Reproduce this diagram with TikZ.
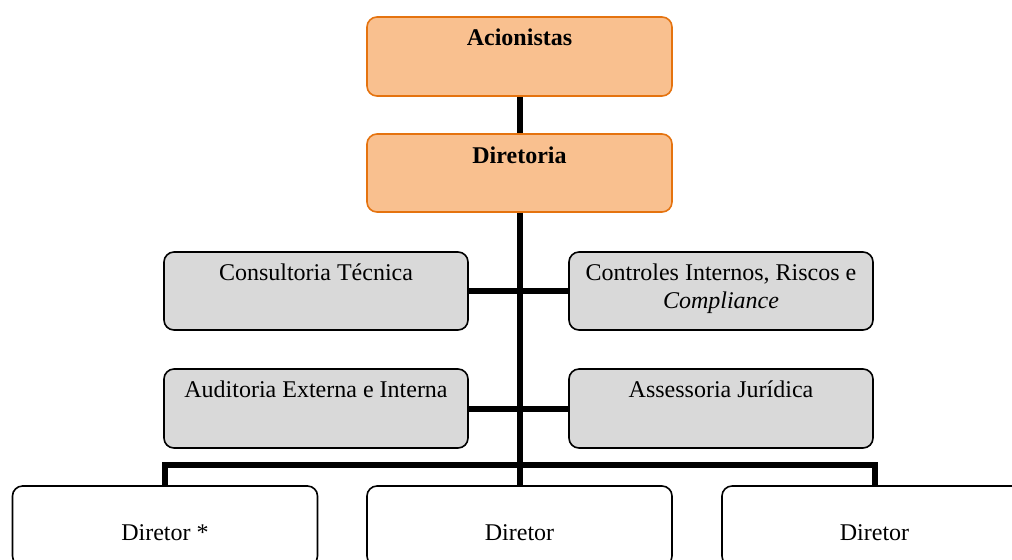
\documentclass[tikz,border=0pt]{standalone}
\usepackage{fontspec}
\setmainfont{Liberation Serif}
\definecolor{orgfill}{HTML}{F9C08F}
\definecolor{orgline}{HTML}{E5730F}
\definecolor{grayfill}{HTML}{D9D9D9}
\begin{document}
\begin{tikzpicture}[x=0.5pt,y=-0.5pt,
  box/.style={draw, rounded corners=5pt, line width=0.8pt, inner sep=0pt},
  topbox/.style={box, draw=orgline, fill=orgfill, minimum width=152.5pt},
  midbox/.style={box, fill=grayfill, minimum width=152pt},
  lowbox/.style={box, fill=white, minimum width=152.5pt, minimum height=40pt},
  lbl/.style={anchor=base, font=\fontsize{12}{14}\selectfont, inner sep=0pt, align=center},
  conn/.style={line width=3pt, line join=miter}]
\useasboundingbox (0,0) rectangle (1012,559);
\clip (0,0) rectangle (1012,559);
% boxes
\node[topbox, minimum height=39.5pt] (acc) at (519.5,56.5) {};
\node[topbox, minimum height=39pt] (dir) at (519.5,173) {};
\node[midbox, minimum height=39pt] (cons) at (316,291) {};
\node[midbox, minimum height=39pt] (ctrl) at (721,291) {};
\node[midbox, minimum height=39.5pt] (aud) at (316,408.5) {};
\node[midbox, minimum height=39.5pt] (ass) at (721,408.5) {};
\node[lowbox] (d1) at (165,526) {};
\node[lowbox] (d2) at (519.5,526) {};
\node[lowbox] (d3) at (874.5,526) {};
% connectors
\draw[conn] (acc.south) -- (dir.north);
\draw[conn] (dir.south) -- (d2.north);
\draw[conn] (cons.east) -- (ctrl.west);
\draw[conn] (aud.east) -- (ass.west);
\draw[conn] (d1.north) -- ++(0,-20) -| (d3.north);
% labels
\node[lbl] (tacc) at (519.5,45) {\textbf{Acionistas}};
\node[lbl] (tdir) at (519.5,163) {\textbf{Diretoria}};
\node[lbl] (tcons) at (316,280) {Consultoria Técnica};
\node[lbl] (tctrl) at (721,308) {Controles Internos, Riscos e\\\textit{Compliance}};
\node[lbl] (taud) at (316,397) {Auditoria Externa e Interna};
\node[lbl] (tass) at (721,397) {Assessoria Jurídica};
\node[lbl] (td1) at (165,540) {Diretor *};
\node[lbl] (td2) at (519.5,540) {Diretor};
\node[lbl] (td3) at (874.5,540) {Diretor};
\end{tikzpicture}
\end{document}
